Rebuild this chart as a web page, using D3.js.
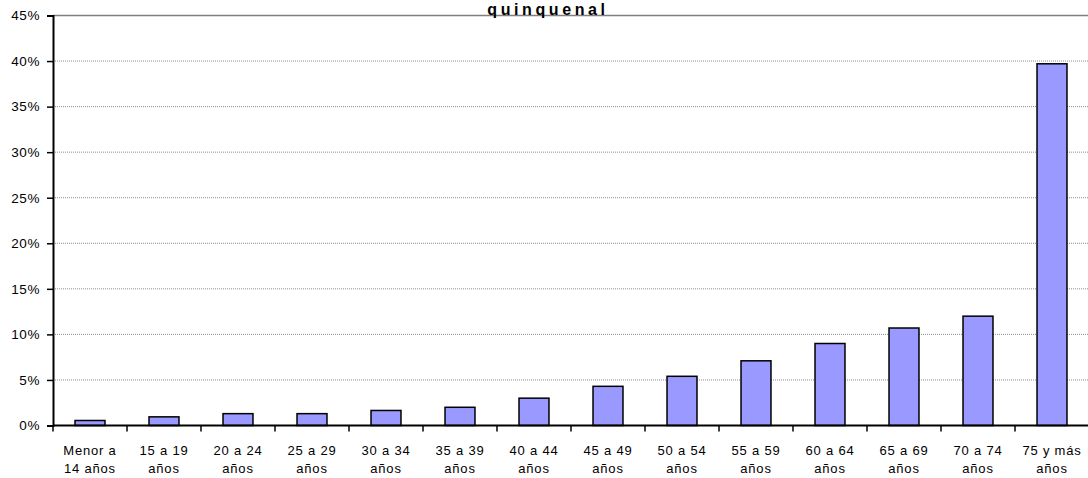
<!DOCTYPE html>
<html>
<head>
<meta charset="utf-8">
<script src="https://cdn.jsdelivr.net/npm/d3@7"></script>
<style>
  html, body { margin: 0; padding: 0; background: #fff; }
  svg { display: block; font-family: "Liberation Sans", Arial, sans-serif; }
</style>
</head>
<body>
<svg id="chart" width="1088" height="478"></svg>
<script>
// Age groups (two-line labels) and their share
const categories = [
  ["Menor a", "14 años"], ["15 a 19", "años"], ["20 a 24", "años"], ["25 a 29", "años"],
  ["30 a 34", "años"], ["35 a 39", "años"], ["40 a 44", "años"], ["45 a 49", "años"],
  ["50 a 54", "años"], ["55 a 59", "años"], ["60 a 64", "años"], ["65 a 69", "años"],
  ["70 a 74", "años"], ["75 y más", "años"]
];
const values = [0.55, 0.95, 1.3, 1.3, 1.65, 2.0, 3.0, 4.3, 5.4, 7.1, 9.0, 10.7, 12.0, 39.7];
const yTicks = [0, 5, 10, 15, 20, 25, 30, 35, 40, 45];
const titleText = "quinquenal";

const svg = d3.select("#chart");
const margin = { left: 53, top: 15.5, bottom: 52.5 };
const plotRight = 1089;
const height = 478;

const x = d3.scaleBand()
  .domain(d3.range(categories.length))
  .range([margin.left, plotRight])
  .paddingInner(0.595)
  .paddingOuter(0.2975);

const y = d3.scaleLinear()
  .domain([0, 45])
  .range([height - margin.bottom, margin.top]);

// Gridlines
svg.append("g")
  .selectAll("line")
  .data(yTicks.filter(t => t > 0 && t < 45))
  .join("line")
  .attr("x1", margin.left).attr("x2", plotRight)
  .attr("y1", d => y(d)).attr("y2", d => y(d))
  .attr("stroke", "#8c8c8c")
  .attr("stroke-width", 1)
  .attr("stroke-dasharray", "1,1");

// Top border of the plot area
svg.append("line")
  .attr("x1", margin.left).attr("x2", plotRight)
  .attr("y1", y(45)).attr("y2", y(45))
  .attr("stroke", "#808080")
  .attr("stroke-width", 1.5);

// Title
svg.append("text")
  .attr("x", 548).attr("y", 14.5)
  .attr("text-anchor", "middle")
  .attr("font-size", 16)
  .attr("font-weight", "bold")
  .attr("letter-spacing", 3.6)
  .attr("fill", "#000")
  .text(titleText);

// Bars
svg.append("g")
  .selectAll("rect")
  .data(values)
  .join("rect")
  .attr("x", (d, i) => x(i))
  .attr("width", x.bandwidth())
  .attr("y", d => y(d))
  .attr("height", d => y(0) - y(d))
  .attr("fill", "#9999ff")
  .attr("stroke", "#000")
  .attr("stroke-width", 1.5);

// Y axis
const yAxis = d3.axisLeft(y)
  .tickValues(yTicks)
  .tickFormat(d => d + "%")
  .tickSize(6)
  .tickPadding(7);

const yg = svg.append("g")
  .attr("transform", `translate(${margin.left},0)`)
  .call(yAxis);
yg.select(".domain").attr("stroke", "#000").attr("stroke-width", 2);
yg.selectAll(".tick line").attr("stroke", "#000").attr("stroke-width", 1.5);
yg.selectAll(".tick text").attr("font-size", 13.5).attr("fill", "#000")
  .attr("letter-spacing", 0.6)
  .attr("font-family", "'Liberation Sans', Arial, sans-serif");

// X axis: ticks between categories
const step = x.step();
const boundaries = d3.range(categories.length + 1).map(i => margin.left + i * step);
const xg = svg.append("g");
xg.append("line")
  .attr("x1", margin.left).attr("x2", plotRight)
  .attr("y1", y(0)).attr("y2", y(0))
  .attr("stroke", "#000").attr("stroke-width", 2);
xg.selectAll("line.tk")
  .data(boundaries)
  .join("line")
  .attr("class", "tk")
  .attr("x1", d => d).attr("x2", d => d)
  .attr("y1", y(0)).attr("y2", y(0) + 6)
  .attr("stroke", "#000").attr("stroke-width", 1.5);

const labels = xg.selectAll("text.lbl")
  .data(categories)
  .join("text")
  .attr("class", "lbl")
  .attr("text-anchor", "middle")
  .attr("font-size", 13)
  .attr("letter-spacing", 0.8)
  .attr("fill", "#000")
  .attr("transform", (d, i) => `translate(${x(i) + x.bandwidth() / 2},0)`);
labels.append("tspan").attr("x", 0).attr("y", 455).text(d => d[0]);
labels.append("tspan").attr("x", 0).attr("y", 473).text(d => d[1]);
</script>
</body>
</html>
